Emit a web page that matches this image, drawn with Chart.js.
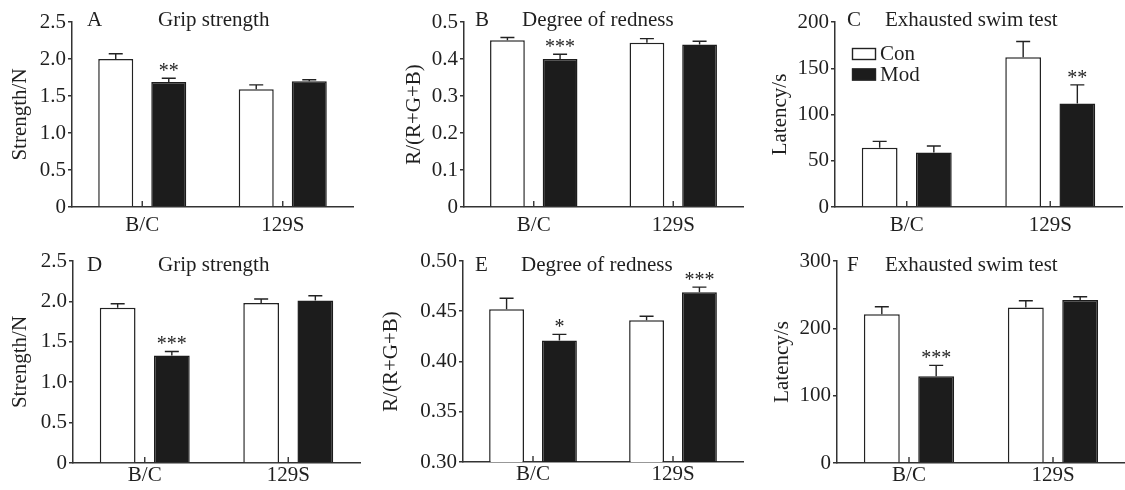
<!DOCTYPE html>
<html>
<head>
<meta charset="utf-8">
<script src="https://cdn.jsdelivr.net/npm/chart.js@4/dist/chart.umd.min.js"></script>
<style>
html,body{margin:0;padding:0;background:#fff;}
#wrap{position:relative;width:1125px;height:490px;overflow:hidden;background:#fff;}
.p{position:absolute;width:375px;height:245px;}
canvas{display:block;}
</style>
</head>
<body>
<div id="wrap">
  <div class="p" style="left:0;top:0"><canvas id="cA" width="375" height="245"></canvas></div>
  <div class="p" style="left:375px;top:0"><canvas id="cB" width="375" height="245"></canvas></div>
  <div class="p" style="left:750px;top:0"><canvas id="cC" width="375" height="245"></canvas></div>
  <div class="p" style="left:0;top:245px"><canvas id="cD" width="375" height="245"></canvas></div>
  <div class="p" style="left:375px;top:245px"><canvas id="cE" width="375" height="245"></canvas></div>
  <div class="p" style="left:750px;top:245px"><canvas id="cF" width="375" height="245"></canvas></div>
</div>
<script>
// ---------- data ----------
const categories = ['B/C', '129S'];
const seriesNames = ['Con', 'Mod'];

// A: Grip strength (row 1)
const gripA_con = [2.00, 1.59];
const gripA_conErr = [0.07, 0.06];
const gripA_mod = [1.69, 1.70];
const gripA_modErr = [0.05, 0.02];
const gripA_sig = ['**', ''];
const gripA_ticks = [0, 0.5, 1.0, 1.5, 2.0, 2.5];
const gripA_tickLabels = ['0', '0.5', '1.0', '1.5', '2.0', '2.5'];

// B: Degree of redness (row 1)
const redB_con = [0.451, 0.444];
const redB_conErr = [0.007, 0.011];
const redB_mod = [0.400, 0.439];
const redB_modErr = [0.013, 0.009];
const redB_sig = ['***', ''];
const redB_ticks = [0, 0.1, 0.2, 0.3, 0.4, 0.5];
const redB_tickLabels = ['0', '0.1', '0.2', '0.3', '0.4', '0.5'];

// C: Exhausted swim test (row 1)
const swimC_con = [64, 162];
const swimC_conErr = [7, 17];
const swimC_mod = [59, 112];
const swimC_modErr = [7, 20];
const swimC_sig = ['', '**'];
const swimC_ticks = [0, 50, 100, 150, 200];
const swimC_tickLabels = ['0', '50', '100', '150', '200'];

// D: Grip strength (row 2)
const gripD_con = [1.92, 1.98];
const gripD_conErr = [0.05, 0.05];
const gripD_mod = [1.33, 2.01];
const gripD_modErr = [0.05, 0.06];
const gripD_sig = ['***', ''];
const gripD_ticks = [0, 0.5, 1.0, 1.5, 2.0, 2.5];
const gripD_tickLabels = ['0', '0.5', '1.0', '1.5', '2.0', '2.5'];

// E: Degree of redness (row 2)
const redE_con = [0.452, 0.441];
const redE_conErr = [0.011, 0.004];
const redE_mod = [0.421, 0.469];
const redE_modErr = [0.006, 0.005];
const redE_sig = ['*', '***'];
const redE_ticks = [0.30, 0.35, 0.40, 0.45, 0.50];
const redE_tickLabels = ['0.30', '0.35', '0.40', '0.45', '0.50'];

// F: Exhausted swim test (row 2)
const swimF_con = [221, 231];
const swimF_conErr = [11, 10];
const swimF_mod = [129, 242];
const swimF_modErr = [16, 5];
const swimF_sig = ['***', ''];
const swimF_ticks = [0, 100, 200, 300];
const swimF_tickLabels = ['0', '100', '200', '300'];

// ---------- style / layout ----------
const FONT = "'Liberation Serif', 'Times New Roman', serif";
const FS = 21;
const TXT = '#1f1f1f';
const AX = '#333333';

const panels = [
  {id:'cA', letter:'A', title:'Grip strength', yTitle:'Strength/N',
   con:gripA_con, conErr:gripA_conErr, mod:gripA_mod, modErr:gripA_modErr, sig:gripA_sig,
   ticks:gripA_ticks, tickLabels:gripA_tickLabels,
   lay:{top:22, right:22, yW:72, xH:38, yTitlePad:8, xPad:6, letterX:87, titleX:158, legend:false}},
  {id:'cB', letter:'B', title:'Degree of redness', yTitle:'R/(R+G+B)',
   con:redB_con, conErr:redB_conErr, mod:redB_mod, modErr:redB_modErr, sig:redB_sig,
   ticks:redB_ticks, tickLabels:redB_tickLabels,
   lay:{top:22, right:7, yW:89, xH:38, yTitlePad:27, xPad:6, letterX:100, titleX:147, legend:false}},
  {id:'cC', letter:'C', title:'Exhausted swim test', yTitle:'Latency/s',
   con:swimC_con, conErr:swimC_conErr, mod:swimC_mod, modErr:swimC_modErr, sig:swimC_sig,
   ticks:swimC_ticks, tickLabels:swimC_tickLabels,
   lay:{top:22, right:3, yW:85, xH:38, yTitlePad:18, xPad:6, letterX:97, titleX:135, legend:true}},
  {id:'cD', letter:'D', title:'Grip strength', yTitle:'Strength/N',
   con:gripD_con, conErr:gripD_conErr, mod:gripD_mod, modErr:gripD_modErr, sig:gripD_sig,
   ticks:gripD_ticks, tickLabels:gripD_tickLabels,
   lay:{top:16, right:15, yW:73, xH:27, yTitlePad:8, xPad:0, letterX:87, titleX:158, legend:false}},
  {id:'cE', letter:'E', title:'Degree of redness', yTitle:'R/(R+G+B)',
   con:redE_con, conErr:redE_conErr, mod:redE_mod, modErr:redE_modErr, sig:redE_sig,
   ticks:redE_ticks, tickLabels:redE_tickLabels,
   lay:{top:16, right:7, yW:88, xH:28, yTitlePad:4, xPad:0, letterX:100, titleX:146, legend:false}},
  {id:'cF', letter:'F', title:'Exhausted swim test', yTitle:'Latency/s',
   con:swimF_con, conErr:swimF_conErr, mod:swimF_mod, modErr:swimF_modErr, sig:swimF_sig,
   ticks:swimF_ticks, tickLabels:swimF_tickLabels,
   lay:{top:16, right:0, yW:87, xH:27, yTitlePad:20, xPad:0, letterX:97, titleX:135, legend:false}}
];

// error bars + significance marks + inner x ticks
const errorBarPlugin = {
  id: 'errorBars',
  afterDatasetsDraw(chart) {
    const ctx = chart.ctx;
    const ys = chart.scales.y;
    const xs = chart.scales.x;
    ctx.save();
    ctx.strokeStyle = '#222';
    ctx.lineWidth = 1.4;
    chart.data.datasets.forEach((ds, di) => {
      const meta = chart.getDatasetMeta(di);
      meta.data.forEach((bar, i) => {
        const v = ds.data[i];
        const e = ds.errs[i];
        const yTop = ys.getPixelForValue(v + e);
        const cap = 7;
        ctx.beginPath();
        ctx.moveTo(bar.x, bar.y);
        ctx.lineTo(bar.x, yTop);
        ctx.moveTo(bar.x - cap, yTop);
        ctx.lineTo(bar.x + cap, yTop);
        ctx.stroke();
        if (ds.sig && ds.sig[i]) {
          ctx.fillStyle = TXT;
          ctx.font = '20px ' + FONT;
          ctx.textAlign = 'center';
          ctx.textBaseline = 'alphabetic';
          ctx.fillText(ds.sig[i], bar.x, yTop - 1);
        }
      });
    });
    // inner x ticks at category centers
    ctx.strokeStyle = AX;
    ctx.lineWidth = 1.4;
    const yb = chart.chartArea.bottom;
    for (let i = 0; i < chart.data.labels.length; i++) {
      const x = xs.getPixelForTick(i);
      ctx.beginPath();
      ctx.moveTo(x, yb);
      ctx.lineTo(x, yb - 6);
      ctx.stroke();
    }
    ctx.restore();
  }
};

const decorPlugin = {
  id: 'decor',
  afterDraw(chart, args, opts) {
    const ctx = chart.ctx;
    ctx.save();
    ctx.fillStyle = TXT;
    ctx.font = FS + 'px ' + FONT;
    ctx.textAlign = 'left';
    ctx.textBaseline = 'alphabetic';
    ctx.fillText(opts.letter, opts.letterX, 26);
    ctx.fillText(opts.title, opts.titleX, 26);
    if (opts.legend) {
      const lx = chart.chartArea.left + 17;
      chart.data.datasets.forEach((ds, i) => {
        const by = 48 + i * 20.5;
        ctx.fillStyle = ds.backgroundColor;
        ctx.fillRect(lx, by, 24, 12);
        ctx.strokeStyle = '#222';
        ctx.lineWidth = 1.4;
        ctx.strokeRect(lx + 0.5, by + 0.5, 23, 11);
        ctx.fillStyle = TXT;
        ctx.textBaseline = 'middle';
        ctx.fillText(ds.label, lx + 28, by + 6.5);
      });
    }
    ctx.restore();
  }
};

panels.forEach(p => {
  const L = p.lay;
  new Chart(document.getElementById(p.id), {
    type: 'bar',
    data: {
      labels: categories,
      datasets: [
        {label: seriesNames[0], data: p.con, errs: p.conErr, sig: null,
         backgroundColor: '#ffffff', borderColor: '#222222', borderWidth: 1.5},
        {label: seriesNames[1], data: p.mod, errs: p.modErr, sig: p.sig,
         backgroundColor: '#1c1c1c', borderColor: '#1c1c1c', borderWidth: 1.5}
      ]
    },
    options: {
      responsive: false,
      animation: false,
      events: [],
      datasets: {bar: {categoryPercentage: 0.755, barPercentage: 0.66}},
      layout: {padding: {top: L.top, right: L.right, left: 0, bottom: 0}},
      plugins: {
        legend: {display: false},
        tooltip: {enabled: false},
        decor: {letter: p.letter, title: p.title, letterX: L.letterX, titleX: L.titleX, legend: L.legend}
      },
      scales: {
        x: {
          grid: {display: false, drawTicks: false},
          border: {display: true, color: AX, width: 1.5},
          ticks: {font: {family: FONT, size: FS}, color: TXT, padding: L.xPad},
          afterFit(s) { s.height = L.xH; }
        },
        y: {
          min: p.ticks[0],
          max: p.ticks[p.ticks.length - 1],
          afterBuildTicks(s) { s.ticks = p.ticks.map(v => ({value: v})); },
          ticks: {
            font: {family: FONT, size: FS}, color: TXT, padding: 2,
            callback: (v, i) => p.tickLabels[i]
          },
          grid: {drawOnChartArea: false, drawTicks: true, tickLength: 4, color: AX, lineWidth: 1.5},
          border: {display: true, color: AX, width: 1.5},
          title: {display: true, text: p.yTitle, font: {family: FONT, size: FS}, color: TXT,
                  padding: {top: L.yTitlePad, bottom: 0}},
          afterFit(s) { s.width = L.yW; }
        }
      }
    },
    plugins: [errorBarPlugin, decorPlugin]
  });
});
</script>
</body>
</html>
